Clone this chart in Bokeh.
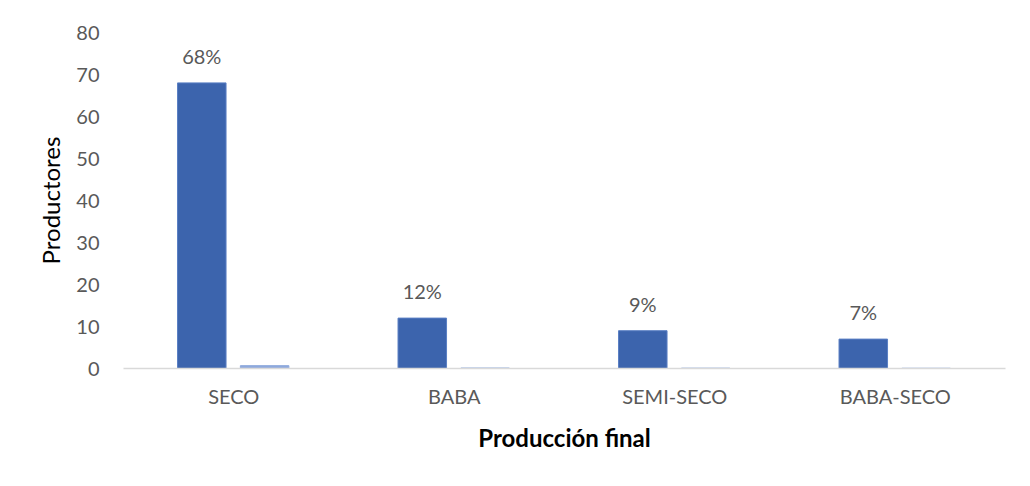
from bokeh.plotting import figure
from bokeh.models import ColumnDataSource, FactorRange, Range1d, FixedTicker
from bokeh.transform import dodge
from bokeh.core.properties import value
from bokeh.embed import file_html
from bokeh.resources import INLINE

categories = ["SECO", "BABA", "SEMI-SECO", "BABA-SECO"]
productores = [68, 12, 9, 7]
porcentaje = [0.68, 0.12, 0.09, 0.07]
etiquetas = ["68%", "12%", "9%", "7%"]
y_ticks = [0, 10, 20, 30, 40, 50, 60, 70, 80]

src = ColumnDataSource(data=dict(cat=categories, prod=productores, pct=porcentaje, lab=etiquetas))

FONT = "Lato"
GRAY = "#595959"

p = figure(x_range=FactorRange(*categories, range_padding=0), y_range=Range1d(0, 80),
           width=1014, height=470, output_backend="svg", toolbar_location=None,
           min_border_left=123, min_border_right=9, min_border_top=32, min_border_bottom=102)
p.outline_line_color = None
p.border_fill_color = "white"
p.background_fill_color = "white"

p.vbar(x=dodge("cat", -0.145, range=p.x_range), top="prod", width=0.22, source=src,
       fill_color="#3c64ad", line_color="#5a7fc4", line_width=1)
p.vbar(x=dodge("cat", 0.14, range=p.x_range), top="pct", width=0.22, source=src,
       fill_color="#8fa9dc", line_color="#8fa9dc", line_width=1)

p.text(x=dodge("cat", -0.145, range=p.x_range), y="prod", text="lab", source=src,
       text_align="center", text_baseline="bottom", y_offset=-15,
       text_font=value(FONT), text_font_size="20px", text_color=GRAY)

p.xgrid.grid_line_color = None
p.ygrid.grid_line_color = None

p.yaxis.ticker = FixedTicker(ticks=y_ticks)
p.yaxis.axis_line_color = None
p.yaxis.major_tick_line_color = None
p.yaxis.minor_tick_line_color = None
p.yaxis.major_label_standoff = 18
p.yaxis.major_label_text_font = FONT
p.yaxis.major_label_text_font_size = "20px"
p.yaxis.major_label_text_color = GRAY
p.yaxis.axis_label = "Productores"
p.yaxis.axis_label_text_font = FONT
p.yaxis.axis_label_text_font_size = "24px"
p.yaxis.axis_label_text_font_style = "normal"
p.yaxis.axis_label_text_color = "#000000"
p.yaxis.axis_label_standoff = 8

p.xaxis.axis_line_color = "#d9d9d9"
p.xaxis.axis_line_width = 1.5
p.xaxis.major_tick_line_color = None
p.xaxis.minor_tick_line_color = None
p.xaxis.major_label_standoff = 9
p.xaxis.major_label_text_font = FONT
p.xaxis.major_label_text_font_size = "20px"
p.xaxis.major_label_text_color = GRAY
p.xaxis.axis_label = "Producción final"
p.xaxis.axis_label_text_font = FONT
p.xaxis.axis_label_text_font_size = "24px"
p.xaxis.axis_label_text_font_style = "bold"
p.xaxis.axis_label_text_color = "#000000"
p.xaxis.axis_label_standoff = 12

open("out.html", "w").write(file_html(p, INLINE))
